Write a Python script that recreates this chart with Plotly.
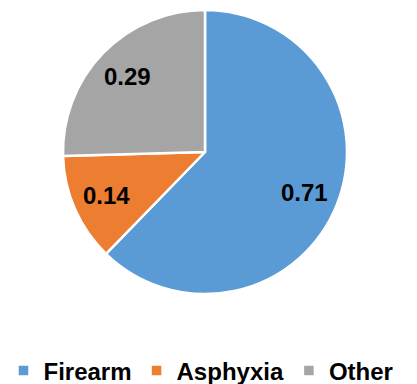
import math
import plotly.graph_objects as go

categories = ["Firearm", "Asphyxia", "Other"]
values = [0.71, 0.14, 0.29]
colors = ["#5B9BD5", "#ED7D31", "#A5A5A5"]

W, H = 417, 384
# pie placement in pixels (center, radius)
cx, cy, R = 205, 152, 142
label_frac = 0.76
FONT = "Liberation Sans, Arial, sans-serif"

fig = go.Figure(go.Pie(
    labels=categories,
    values=values,
    sort=False,
    direction="clockwise",
    rotation=0,
    marker=dict(colors=colors, line=dict(color="white", width=2.5)),
    textinfo="none",
    domain=dict(x=[(cx - R) / W, (cx + R) / W], y=[1 - (cy + R) / H, 1 - (cy - R) / H]),
    hoverinfo="label+value",
))

# data labels at the slice mid-angles
total = sum(values)
cum = 0.0
for v in values:
    mid = (cum + v / 2) / total * 2 * math.pi
    cum += v
    px = cx + label_frac * R * math.sin(mid)
    py = cy - label_frac * R * math.cos(mid)
    fig.add_annotation(
        x=px / W, y=1 - py / H, xref="paper", yref="paper",
        xanchor="center", yanchor="middle",
        text=f"{v:.2f}", showarrow=False,
        font=dict(family=FONT, size=24, color="black", weight="bold"),
    )

fig.update_layout(
    width=W, height=H,
    margin=dict(l=0, r=0, t=0, b=0, autoexpand=False),
    paper_bgcolor="white",
    plot_bgcolor="white",
    showlegend=True,
    legend=dict(
        orientation="h",
        x=0.482, xanchor="center",
        y=1 - 371 / H, yanchor="middle",
        font=dict(family=FONT, size=24, color="black", weight="bold"),
        itemwidth=30,
        tracegroupgap=0,
    ),
)

fig.write_html(
    "out.html",
    config={"displayModeBar": False},
    post_script="document.body.style.margin='0';",
)
